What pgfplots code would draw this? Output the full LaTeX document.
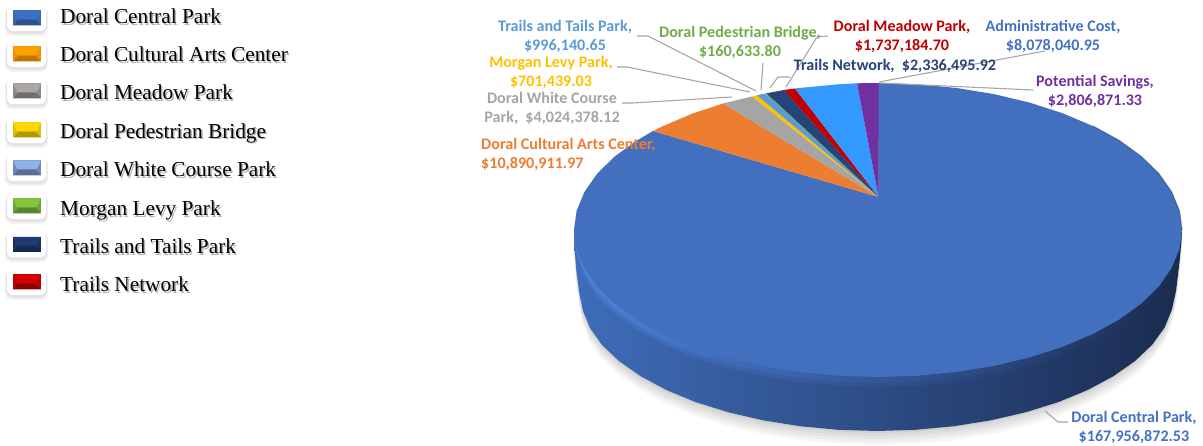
\documentclass[border=0pt]{standalone}
\usepackage{fontspec}
\usepackage{pgfplots}
\usepackage{pgfplotstable}
\pgfplotsset{compat=1.18}
\setmainfont{Liberation Serif}
\newfontfamily\labfont{Carlito}
\definecolor{cCentral}{HTML}{4472C4}
\definecolor{cFace}{HTML}{4270BF}
\definecolor{cCultural}{HTML}{ED7D31}
\definecolor{cWhite}{HTML}{A5A5A5}
\definecolor{cMorgan}{HTML}{FFC000}
\definecolor{cTails}{HTML}{5B9BD5}
\definecolor{cPed}{HTML}{70AD47}
\definecolor{cNetwork}{HTML}{264478}
\definecolor{cMeadow}{HTML}{C00000}
\definecolor{cAdmin}{HTML}{3399FF}
\definecolor{cAdminT}{HTML}{4472C4}
\definecolor{cPot}{HTML}{7030A0}
\definecolor{cLead}{HTML}{A6A6A6}
\definecolor{wallL}{HTML}{3F6DBA}
\definecolor{wallM}{HTML}{203A6C}
\definecolor{wallR}{HTML}{1A2B4F}
\definecolor{rimL}{HTML}{4C82DC}
\definecolor{rimM}{HTML}{2F5596}
\definecolor{rimR}{HTML}{1A2C50}
\definecolor{k1a}{HTML}{3F6FC4}\definecolor{k1b}{HTML}{3A66B5}\definecolor{k1c}{HTML}{2D5290}
\definecolor{k2a}{HTML}{FFA200}\definecolor{k2b}{HTML}{F09000}\definecolor{k2c}{HTML}{BF7600}
\definecolor{k3a}{HTML}{ABA7A3}\definecolor{k3b}{HTML}{8E8A88}\definecolor{k3c}{HTML}{716D6B}
\definecolor{k4a}{HTML}{FFD800}\definecolor{k4b}{HTML}{E0BE00}\definecolor{k4c}{HTML}{B39800}
\definecolor{k5a}{HTML}{8FB0E8}\definecolor{k5b}{HTML}{7088B4}\definecolor{k5c}{HTML}{5A6E94}
\definecolor{k6a}{HTML}{86C440}\definecolor{k6b}{HTML}{6CA636}\definecolor{k6c}{HTML}{558530}
\definecolor{k7a}{HTML}{1F3B72}\definecolor{k7b}{HTML}{1A3160}\definecolor{k7c}{HTML}{152850}
\definecolor{k8a}{HTML}{D60000}\definecolor{k8b}{HTML}{B80000}\definecolor{k8c}{HTML}{8C0000}
% lower half of the rim of the top face; d is how far the bevel reaches below it
\pgfplotstableread{
x y d
574 230 0
576.6 249.2 .4
584.4 268.0 .8
597.1 286.3 1
614.7 303.5 1
636.8 319.5 1
663 333.9 1
692.9 346.6 1
726 357.3 1
761.7 365.8 1
799.3 372.0 1
838.3 375.7 1
878 377 1
917.7 375.7 1
956.7 372.0 1
994.3 365.8 1
1030 357.3 1
1063.1 346.6 1
1093.0 333.9 1
1119.2 319.5 1
1141.3 303.5 1
1158.9 286.3 1
1171.6 268.0 .8
1179.4 249.2 .4
1182 230 0
}\rimlow
% lower edge of the wall
\pgfplotstableread{
x y
574 230
574.6 250
576.5 272
579.5 294
583 311
590 328
602 345
618.9 361
640.6 376.2
666.3 390
695.6 402.1
728 412.2
763 420.3
799.9 426.2
838.1 429.8
877 431
915.9 429.8
954.1 426.2
991 420.3
1026 412.2
1058.4 402.1
1087.7 390
1113.4 376.2
1135.1 361
1152.3 344.6
1164.8 327.2
1172 309.3
1176 291
1179.5 262
1181.5 240
1182 230
}\walllow
\newcommand{\legkey}[4]{%
  \fill[black,opacity=.05,rounded corners=7pt] (axis cs:5,#1-12) rectangle (axis cs:48,#1+18);
  \fill[black,opacity=.06,rounded corners=7pt] (axis cs:6,#1-12) rectangle (axis cs:47,#1+16);
  \fill[white,rounded corners=6pt] (axis cs:7,#1-13) rectangle (axis cs:46,#1+13);
  \fill[#3] (axis cs:13,#1-7.5) rectangle (axis cs:41,#1+7.5);
  \fill[#2] (axis cs:13,#1-7.5) -- (axis cs:41,#1-7.5) -- (axis cs:37,#1+1) -- (axis cs:17,#1+1) -- cycle;
  \fill[#4] (axis cs:13,#1+7.5) -- (axis cs:41,#1+7.5) -- (axis cs:36,#1+2) -- (axis cs:18,#1+2) -- cycle;
}
\newcommand{\legtext}[2]{%
  \node[anchor=base west,inner sep=0pt,text=black,opacity=.3,font=\fontsize{21.3}{24}\selectfont] at (axis cs:61.5,#1+2.5) {#2};
  \node[anchor=base west,inner sep=0pt,text=black,font=\fontsize{21.3}{24}\selectfont] at (axis cs:60,#1+1) {#2};
}
\tikzset{lab/.style={inner sep=0pt,align=center,font=\labfont\bfseries\fontsize{16.1}{19}\selectfont}}
\begin{document}
\begin{tikzpicture}
\path[use as bounding box] (0,0) rectangle (1203pt,446pt);
\begin{axis}[
  at={(0,0)},anchor=south west,
  scale only axis,width=1203pt,height=446pt,
  xmin=0,xmax=1203,ymin=0,ymax=446,y dir=reverse,
  hide axis,clip=false]
% soft shadow
\addplot[draw=none,fill=black,fill opacity=.035] table[x=x,y expr=\thisrow{y}+14] \walllow -- cycle;
\addplot[draw=none,fill=black,fill opacity=.035] table[x=x,y expr=\thisrow{y}+11] \walllow -- cycle;
\addplot[draw=none,fill=black,fill opacity=.04] table[x=x,y expr=\thisrow{y}+8] \walllow -- cycle;
\addplot[draw=none,fill=black,fill opacity=.04] table[x=x,y expr=\thisrow{y}+5] \walllow -- cycle;
\addplot[draw=none,fill=black,fill opacity=.05] table[x=x,y expr=\thisrow{y}+2] \walllow -- cycle;
% wall
\addplot[draw=none,left color=wallL,middle color=wallM,right color=wallR] table[x=x,y=y] \walllow -- cycle;
% bevel under the rim
\addplot[draw=none,left color=rimL,middle color=rimM,right color=rimR,opacity=.55] table[x=x,y expr=\thisrow{y}+10*\thisrow{d}] \rimlow -- cycle;
\addplot[draw=none,left color=rimL,middle color=rimM,right color=rimR] table[x=x,y expr=\thisrow{y}+6*\thisrow{d}] \rimlow -- cycle;
% Doral Central Park
\addplot[draw=none,fill=cFace] coordinates {
(878.5,197) (878,83) (917.7,84.3) (956.7,88) (994.3,94.2) (1030,102.7) (1063.1,113.4)
(1093,126.1) (1119.2,140.5) (1141.3,156.5) (1158.9,173.7) (1171.6,192) (1179.4,210.8)
(1182,230) (1179.4,249.2) (1171.6,268) (1158.9,286.3) (1141.3,303.5) (1119.2,319.5)
(1093,333.9) (1063.1,346.6) (1030,357.3) (994.3,365.8) (956.7,372) (917.7,375.7)
(878,377) (838.3,375.7) (799.3,372) (761.7,365.8) (726,357.3) (692.9,346.6) (663,333.9)
(636.8,319.5) (614.7,303.5) (597.1,286.3) (584.4,268) (576.6,249.2) (574,230)
(576.6,210.8) (584.4,192) (597.1,173.7) (614.7,156.5) (636.8,140.5) (653,131)
} -- cycle;
% dark edge, upper right
\addplot[cNetwork,line width=1.2pt,opacity=.55] coordinates {
(1093,126.1) (1119.2,140.5) (1141.3,156.5) (1158.9,173.7) (1171.6,192) (1179.4,210.8) (1182,230)};
% Doral Cultural Arts Center
\addplot[draw=none,fill=cCultural] coordinates {(878.5,197) (653,131) (663,126.1) (692.9,113.4) (723,103.5)} -- cycle;
% Doral White Course Park
\addplot[draw=none,fill=cWhite] coordinates {(878.5,197) (723,103.5) (726,102.7) (752,96.5)} -- cycle;
% Morgan Levy Park
\addplot[draw=none,fill=cMorgan] coordinates {(878.5,197) (752,96.5) (757,95.3)} -- cycle;
% Trails and Tails Park
\addplot[draw=none,fill=cTails] coordinates {(878.5,197) (757,95.3) (761.7,94.2) (765.5,93.5)} -- cycle;
% Doral Pedestrian Bridge
\addplot[draw=none,fill=cPed] coordinates {(878.5,197) (765.5,93.5) (766.5,93.3)} -- cycle;
% Trails Network
\addplot[draw=none,fill=cNetwork] coordinates {(878.5,197) (766.5,93.3) (784,90)} -- cycle;
% Doral Meadow Park
\addplot[draw=none,fill=cMeadow] coordinates {(878.5,197) (784,90) (795,88.5)} -- cycle;
% Administrative Cost
\addplot[draw=none,fill=cAdmin] coordinates {(878.5,197) (795,88.5) (799.3,88) (838.3,84.3) (857,83.3)} -- cycle;
% Potential Savings
\addplot[draw=none,fill=cPot] coordinates {(878.5,197) (857,83.3) (878.5,83)} -- cycle;
% leader lines
\addplot[cLead,line width=1.1pt] coordinates {(637,36) (648,36) (756,91)};
\addplot[cLead,line width=1.1pt] coordinates {(617,67) (627,67) (750,92)};
\addplot[cLead,line width=1.1pt] coordinates {(622,103) (633,103) (732,97)};
\addplot[cLead,line width=1.1pt] coordinates {(763,63) (761,90)};
\addplot[cLead,line width=1.1pt] coordinates {(770,88) (778,77) (790,77)};
\addplot[cLead,line width=1.1pt] coordinates {(786,87) (817,37) (828,36)};
\addplot[cLead,line width=1.1pt] coordinates {(879,82) (1045,51)};
\addplot[cLead,line width=1.1pt] coordinates {(880,83) (1033,90)};
\addplot[cLead,line width=1.1pt] coordinates {(1045,411) (1058,422) (1068,422)};
% data labels
\node[lab,text=cTails] at (axis cs:565,36) {Trails and Tails Park,\\\$996,140.65};
\node[lab,text=cMorgan] at (axis cs:551,72) {Morgan Levy Park,\\\$701,439.03};
\node[lab,text=cWhite] at (axis cs:552,108) {Doral White Course\\Park,\ \ \$4,024,378.12};
\node[lab,text=cCultural,anchor=west,align=left] at (axis cs:481,154) {Doral Cultural Arts Center,\\\$10,890,911.97};
\node[lab,text=cPed] at (axis cs:740,42.5) {Doral Pedestrian Bridge,\\\$160,633.80};
\node[lab,text=cMeadow] at (axis cs:902,36) {Doral Meadow Park,\\\$1,737,184.70};
\node[lab,text=cAdminT] at (axis cs:1053,36) {Administrative Cost,\\\$8,078,040.95};
\node[lab,text=cNetwork] at (axis cs:895,66) {Trails Network,\ \ \$2,336,495.92};
\node[lab,text=cPot] at (axis cs:1095,91) {Potential Savings,\\\$2,806,871.33};
\node[lab,text=cCentral] at (axis cs:1134,427.5) {Doral Central Park,\\\$167,956,872.53};
% legend
\legkey{18}{k1a}{k1b}{k1c}
\legkey{54}{k2a}{k2b}{k2c}
\legkey{91}{k3a}{k3b}{k3c}
\legkey{130}{k4a}{k4b}{k4c}
\legkey{168}{k5a}{k5b}{k5c}
\legkey{206}{k6a}{k6b}{k6c}
\legkey{244.5}{k7a}{k7b}{k7c}
\legkey{282}{k8a}{k8b}{k8c}
\legtext{22.7}{Doral Central Park}
\legtext{61}{Doral Cultural Arts Center}
\legtext{98.7}{Doral Meadow Park}
\legtext{137.3}{Doral Pedestrian Bridge}
\legtext{176}{Doral White Course Park}
\legtext{215}{Morgan Levy Park}
\legtext{252.7}{Trails and Tails Park}
\legtext{290.7}{Trails Network}
\end{axis}
\end{tikzpicture}
\end{document}
